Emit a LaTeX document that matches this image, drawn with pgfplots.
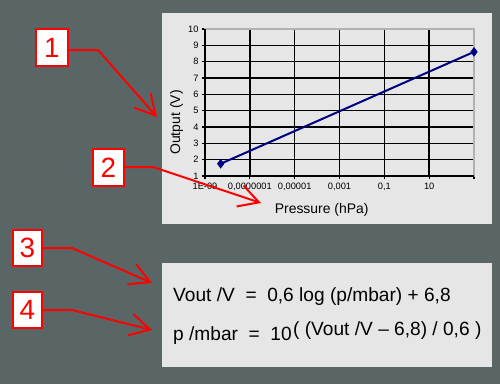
\documentclass[border=0pt]{standalone}
\usepackage{pgfplots}
\pgfplotsset{compat=1.18}
\usepackage{fontspec}
\setmainfont{Liberation Sans}
\usetikzlibrary{arrows.meta}
\definecolor{bgcol}{HTML}{5A6666}
\definecolor{panel}{HTML}{E6E6E6}
\definecolor{linecol}{HTML}{000080}
\begin{document}
\begin{tikzpicture}[x=1bp,y=1bp]
\fill[bgcol] (0,0) rectangle (500,384);
\fill[panel] (162,160) rectangle (492,371);
\fill[panel] (162,17) rectangle (492,121);
\begin{axis}[
  at={(205bp,208bp)}, anchor=south west,
  width=269bp, height=147bp, scale only axis,
  xmode=log, xmin=1e-9, xmax=1e3, ymin=1, ymax=10,
  xtick={1e-9,1e-7,1e-5,1e-3,1e-1,1e1,1e3},
  xticklabels={1E-09,{0,0000001},{0,00001},{0,001},{0,1},10,{}},
  ytick={1,2,...,10},
  minor xtick={}, minor ytick={},
  xminorticks=false,
  tick align=outside, xtick pos=bottom, ytick pos=left,
  major tick length=3bp,
  tick style={black, line width=1.2bp},
  grid=major,
  grid style={black, line width=1.5bp},
  axis line style={draw=gray!60, line width=1.5bp},
  /pgf/number format/assume math mode=true,
  ticklabel style={font=\fontsize{9.3}{11}\selectfont},
  xticklabel style={yshift=-1bp},
  clip=false,
]
\addplot[color=linecol, line width=2bp, mark=diamond*, mark size=3.2bp, mark options={fill=linecol}] coordinates {(5e-9,1.75) (1000,8.6)};
\draw[black, line width=1.5bp] (rel axis cs:0,1) -- (rel axis cs:0,0) -- (rel axis cs:1,0);
\end{axis}
\node[rotate=90, font=\fontsize{14}{16}\selectfont] at (176.5,261.5) {Output (V)};
\node[anchor=base, font=\fontsize{14}{16}\selectfont] at (321.7,170.7) {Pressure (hPa)};
% formula
\node[anchor=base west, inner sep=0pt, font=\fontsize{19.2}{22}\selectfont] at (173,83) {Vout /V\ \ =\ \ 0,6 log (p/mbar) + 6,8};
\node[anchor=base west, inner sep=0pt, font=\fontsize{19.2}{22}\selectfont] at (173,44) {p /mbar\ \ =\ \ 10};
\node[anchor=base west, inner sep=0pt, font=\fontsize{19.2}{22}\selectfont] at (293,49) {( (Vout /V – 6,8) / 0,6 )};
% red boxes and arrows
\begin{scope}[red, line width=2bp]
\draw[-{Straight Barb[length=20bp,width=22bp]}] (68,334) -- (98,334) -- (157,267);
\draw[-{Straight Barb[length=20bp,width=22bp]}] (124,217) -- (153,217) -- (261,181);
\draw[-{Straight Barb[length=20bp,width=22bp]}] (42,136) -- (72,136) -- (152,101);
\draw[-{Straight Barb[length=20bp,width=22bp]}] (42,74) -- (72,74) -- (152,54);
\filldraw[fill=white] (36,318) rectangle (68,355);
\filldraw[fill=white] (93,198) rectangle (124,235);
\filldraw[fill=white] (13,118) rectangle (42,154);
\filldraw[fill=white] (13,56) rectangle (42,92);
\end{scope}
\begin{scope}[font=\fontsize{28}{30}\selectfont, text=red]
\node at (52,336.5) {1};
\node at (108.5,216.5) {2};
\node at (27.5,136) {3};
\node at (27.5,74) {4};
\end{scope}
\end{tikzpicture}
\end{document}
